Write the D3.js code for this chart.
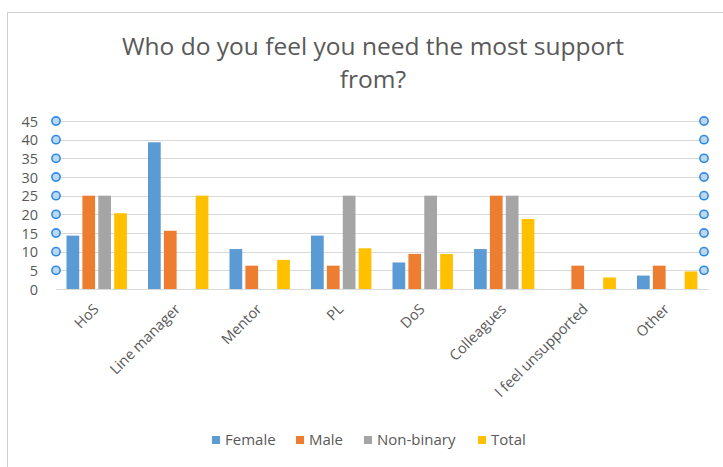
<!DOCTYPE html>
<html><head><meta charset="utf-8">
<script src="https://cdn.jsdelivr.net/npm/d3@7"></script>
<style>
html,body{margin:0;padding:0;background:#fff;}
svg{display:block;}
</style></head>
<body>
<script>
const categories = ["HoS","Line manager","Mentor","PL","DoS","Colleagues","I feel unsupported","Other"];
const seriesNames = ["Female","Male","Non-binary","Total"];
const female = [14.3, 39.3, 10.7, 14.3, 7.1, 10.7, 0, 3.6];
const male = [25, 15.6, 6.25, 6.25, 9.4, 25, 6.25, 6.25];
const nonBinary = [25, 0, 0, 25, 25, 25, 0, 0];
const total = [20.3, 25, 7.8, 10.9, 9.4, 18.75, 3.1, 4.7];
const yTicks = [0,5,10,15,20,25,30,35,40,45];
const colors = ["#5b9bd5","#ed7d31","#a5a5a5","#ffc000"];
const titleLines = ["Who do you feel you need the most support","from?"];

const seriesValues = [female, male, nonBinary, total];
const W = 723, H = 467;
const font = "'Open Sans', 'Noto Sans', sans-serif";
const textColor = "#595959";

const svg = d3.select("body").append("svg").attr("width", W).attr("height", H);

// chart border
svg.append("rect").attr("x", 7.5).attr("y", 12.5).attr("width", W + 10).attr("height", H + 10)
  .attr("fill", "#fff").attr("stroke", "#d0d0d0").attr("stroke-width", 1);

// title
svg.append("text").attr("x", 373).attr("y", 55).attr("text-anchor","middle")
  .attr("font-family", font).attr("font-size", 24.5).attr("fill", textColor)
  .selectAll("tspan").data(titleLines).join("tspan")
  .attr("x", 373).attr("dy", (d,i)=> i===0 ? 0 : 33).text(d=>d);

const x0 = d3.scaleBand().domain(categories).range([56, 708]).padding(0);
const x1 = d3.scaleBand().domain(seriesNames).range([10.5, 10.5 + 60.4]).paddingInner(0.2).paddingOuter(0);
const y = d3.scaleLinear().domain([0,45]).range([289, 121]);

// gridlines
svg.append("g").selectAll("line").data(yTicks).join("line")
  .attr("x1", 56).attr("x2", 700)
  .attr("y1", d=>Math.round(y(d))+0.5).attr("y2", d=>Math.round(y(d))+0.5)
  .attr("stroke", "#d9d9d9").attr("stroke-width", 1);

// y axis via d3.axisLeft (labels only)
const yAxis = svg.append("g").attr("transform","translate(38,0)")
  .call(d3.axisLeft(y).tickValues(yTicks).tickSize(0).tickPadding(0));
yAxis.select(".domain").remove();
yAxis.selectAll("text").attr("font-family", font).attr("font-size", 14.5).attr("fill", textColor).attr("dy","0.35em");

// bars
const data = categories.map((c,i)=>({cat:c, vals: seriesNames.map((s,j)=>({s, v: seriesValues[j][i], c: colors[j]}))}));
const g = svg.append("g");
g.selectAll("g").data(data).join("g")
  .attr("transform", d=>`translate(${x0(d.cat)},0)`)
  .selectAll("rect").data(d=>d.vals.filter(v=>v.v>0)).join("rect")
  .attr("x", d=>x1(d.s)).attr("width", x1.bandwidth())
  .attr("y", d=>y(d.v)).attr("height", d=>y(0)-y(d.v))
  .attr("fill", d=>d.c);

// x axis labels
const xAxis = svg.append("g").attr("transform","translate(0,289)")
  .call(d3.axisBottom(x0).tickSize(0).tickPadding(0));
xAxis.select(".domain").attr("stroke","#d9d9d9");
xAxis.selectAll(".tick text")
  .attr("font-family", font).attr("font-size", 14.5).attr("fill", textColor)
  .attr("text-anchor","end").attr("dy", null)
  .attr("transform", "translate(3,21) rotate(-45)")
  .attr("y", 0).attr("x", 0);

// handle circles
const handleTicks = yTicks.filter(t=>t>0);
[56, 704].forEach(cx=>{
  svg.append("g").selectAll("circle").data(handleTicks).join("circle")
    .attr("cx", cx).attr("cy", d=>y(d)).attr("r", 4.1)
    .attr("fill", "#bdd7ee").attr("stroke", "#2e8be6").attr("stroke-width", 1.6);
});

// legend
const legendX = [212, 296, 364, 478];
const lg = svg.append("g").selectAll("g").data(seriesNames).join("g")
  .attr("transform", (d,i)=>`translate(${legendX[i]},440)`);
lg.append("rect").attr("x",0).attr("y",-4).attr("width",8).attr("height",8).attr("fill",(d,i)=>colors[i]);
lg.append("text").attr("x",13).attr("y",0).attr("dy","0.35em")
  .attr("font-family", font).attr("font-size", 15).attr("fill", textColor).text(d=>d);
</script>
</body></html>
